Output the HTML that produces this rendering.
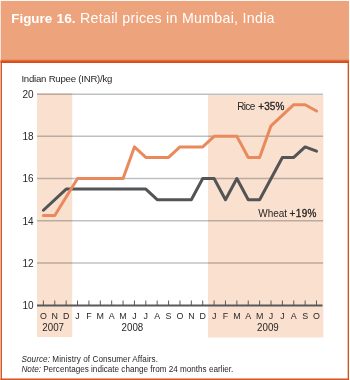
<!DOCTYPE html>
<html><head><meta charset="utf-8"><style>
html,body{margin:0;padding:0;background:#fff;width:350px;height:380px;overflow:hidden}
svg{display:block;will-change:transform}
text{font-family:"Liberation Sans",sans-serif}
</style></head><body>
<svg width="350" height="380" viewBox="0 0 350 380">
<rect x="0.7" y="0.9" width="348.3" height="61" fill="#EDA37C"/>
<rect x="37" y="93" width="35.2" height="244.1" fill="#FAE0CE"/>
<rect x="208" y="95" width="115.4" height="242.5" fill="#FAE0CE"/>
<line x1="37" x2="323" y1="94.15" y2="94.15" stroke="rgba(15,25,35,0.27)" stroke-width="1.5"/>
<line x1="37" x2="323" y1="136.36" y2="136.36" stroke="rgba(15,25,35,0.27)" stroke-width="1.5"/>
<line x1="37" x2="323" y1="178.57" y2="178.57" stroke="rgba(15,25,35,0.27)" stroke-width="1.5"/>
<line x1="37" x2="323" y1="220.78" y2="220.78" stroke="rgba(15,25,35,0.27)" stroke-width="1.5"/>
<line x1="37" x2="323" y1="262.99" y2="262.99" stroke="rgba(15,25,35,0.27)" stroke-width="1.5"/>
<line x1="37" x2="322.5" y1="305.50" y2="305.50" stroke="#58595B" stroke-width="2"/>
<line x1="43.40" x2="43.40" y1="300.50" y2="305.50" stroke="#58595B" stroke-width="1"/>
<line x1="54.78" x2="54.78" y1="300.50" y2="305.50" stroke="#58595B" stroke-width="1"/>
<line x1="66.16" x2="66.16" y1="300.50" y2="305.50" stroke="#58595B" stroke-width="1"/>
<line x1="77.54" x2="77.54" y1="300.50" y2="305.50" stroke="#58595B" stroke-width="1"/>
<line x1="88.92" x2="88.92" y1="300.50" y2="305.50" stroke="#58595B" stroke-width="1"/>
<line x1="100.30" x2="100.30" y1="300.50" y2="305.50" stroke="#58595B" stroke-width="1"/>
<line x1="111.68" x2="111.68" y1="300.50" y2="305.50" stroke="#58595B" stroke-width="1"/>
<line x1="123.06" x2="123.06" y1="300.50" y2="305.50" stroke="#58595B" stroke-width="1"/>
<line x1="134.44" x2="134.44" y1="300.50" y2="305.50" stroke="#58595B" stroke-width="1"/>
<line x1="145.82" x2="145.82" y1="300.50" y2="305.50" stroke="#58595B" stroke-width="1"/>
<line x1="157.20" x2="157.20" y1="300.50" y2="305.50" stroke="#58595B" stroke-width="1"/>
<line x1="168.58" x2="168.58" y1="300.50" y2="305.50" stroke="#58595B" stroke-width="1"/>
<line x1="179.96" x2="179.96" y1="300.50" y2="305.50" stroke="#58595B" stroke-width="1"/>
<line x1="191.34" x2="191.34" y1="300.50" y2="305.50" stroke="#58595B" stroke-width="1"/>
<line x1="202.72" x2="202.72" y1="300.50" y2="305.50" stroke="#58595B" stroke-width="1"/>
<line x1="214.10" x2="214.10" y1="300.50" y2="305.50" stroke="#58595B" stroke-width="1"/>
<line x1="225.48" x2="225.48" y1="300.50" y2="305.50" stroke="#58595B" stroke-width="1"/>
<line x1="236.86" x2="236.86" y1="300.50" y2="305.50" stroke="#58595B" stroke-width="1"/>
<line x1="248.24" x2="248.24" y1="300.50" y2="305.50" stroke="#58595B" stroke-width="1"/>
<line x1="259.62" x2="259.62" y1="300.50" y2="305.50" stroke="#58595B" stroke-width="1"/>
<line x1="271.00" x2="271.00" y1="300.50" y2="305.50" stroke="#58595B" stroke-width="1"/>
<line x1="282.38" x2="282.38" y1="300.50" y2="305.50" stroke="#58595B" stroke-width="1"/>
<line x1="293.76" x2="293.76" y1="300.50" y2="305.50" stroke="#58595B" stroke-width="1"/>
<line x1="305.14" x2="305.14" y1="300.50" y2="305.50" stroke="#58595B" stroke-width="1"/>
<line x1="316.52" x2="316.52" y1="300.50" y2="305.50" stroke="#58595B" stroke-width="1"/>
<polyline points="43.40,210.23 66.16,189.12 145.82,189.12 157.20,199.68 191.34,199.68 202.72,178.57 214.10,178.57 225.48,199.68 236.86,178.57 248.24,199.68 259.62,199.68 282.38,157.47 293.76,157.47 305.14,146.91 316.52,151.13" fill="none" stroke="#535456" stroke-width="3" stroke-linejoin="round" stroke-linecap="round"/>
<polyline points="43.40,215.50 54.78,215.50 77.54,178.57 123.06,178.57 134.44,146.91 145.82,157.47 168.58,157.47 179.96,146.91 202.72,146.91 214.10,136.36 236.86,136.36 248.24,157.47 259.62,157.47 271.00,125.81 293.76,104.70 305.14,104.70 316.52,111.03" fill="none" stroke="#EA8A5C" stroke-width="3" stroke-linejoin="round" stroke-linecap="round"/>
<rect x="0.6" y="59.8" width="348.4" height="1.3" fill="#E26B3C"/>
<rect x="0.6" y="61.1" width="348.4" height="1.9" fill="#D84C16"/>
<rect x="0.55" y="61" width="1.45" height="319" fill="#D9531E"/>
<rect x="347.65" y="61" width="1.35" height="319" fill="#D9531E"/>
<rect x="0.55" y="378.5" width="348.45" height="1.5" fill="#D9531E"/>
<text x="11.30" y="23.20" font-size="13.35" font-weight="bold" font-style="normal" fill="#fff" text-anchor="start" letter-spacing="0">Figure</text>
<text x="56.60" y="23.20" font-size="13.7" font-weight="bold" font-style="normal" fill="#fff" text-anchor="start" letter-spacing="0">16.</text>
<text x="80.00" y="23.00" font-size="14.2" font-weight="normal" font-style="normal" fill="#fff" text-anchor="start" letter-spacing="0.29">Retail prices in Mumbai, India</text>
<text x="21.40" y="82.40" font-size="9.6" font-weight="normal" font-style="normal" fill="#2a2627" text-anchor="start" letter-spacing="-0.22">Indian Rupee (INR)/kg</text>
<text x="33.60" y="97.95" font-size="10" font-weight="normal" font-style="normal" fill="#2a2627" text-anchor="end" letter-spacing="0">20</text>
<text x="33.60" y="140.16" font-size="10" font-weight="normal" font-style="normal" fill="#2a2627" text-anchor="end" letter-spacing="0">18</text>
<text x="33.60" y="182.37" font-size="10" font-weight="normal" font-style="normal" fill="#2a2627" text-anchor="end" letter-spacing="0">16</text>
<text x="33.60" y="224.58" font-size="10" font-weight="normal" font-style="normal" fill="#2a2627" text-anchor="end" letter-spacing="0">14</text>
<text x="33.60" y="266.79" font-size="10" font-weight="normal" font-style="normal" fill="#2a2627" text-anchor="end" letter-spacing="0">12</text>
<text x="33.60" y="309.00" font-size="10" font-weight="normal" font-style="normal" fill="#2a2627" text-anchor="end" letter-spacing="0">10</text>
<text transform="translate(43.40,318.70) scale(1,1.12)" font-size="8.9" font-weight="normal" font-style="normal" fill="#2a2627" text-anchor="middle" letter-spacing="0">O</text>
<text transform="translate(54.78,318.70) scale(1,1.12)" font-size="8.9" font-weight="normal" font-style="normal" fill="#2a2627" text-anchor="middle" letter-spacing="0">N</text>
<text transform="translate(66.16,318.70) scale(1,1.12)" font-size="8.9" font-weight="normal" font-style="normal" fill="#2a2627" text-anchor="middle" letter-spacing="0">D</text>
<text transform="translate(77.54,318.70) scale(1,1.12)" font-size="8.9" font-weight="normal" font-style="normal" fill="#2a2627" text-anchor="middle" letter-spacing="0">J</text>
<text transform="translate(88.92,318.70) scale(1,1.12)" font-size="8.9" font-weight="normal" font-style="normal" fill="#2a2627" text-anchor="middle" letter-spacing="0">F</text>
<text transform="translate(100.30,318.70) scale(1,1.12)" font-size="8.9" font-weight="normal" font-style="normal" fill="#2a2627" text-anchor="middle" letter-spacing="0">M</text>
<text transform="translate(111.68,318.70) scale(1,1.12)" font-size="8.9" font-weight="normal" font-style="normal" fill="#2a2627" text-anchor="middle" letter-spacing="0">A</text>
<text transform="translate(123.06,318.70) scale(1,1.12)" font-size="8.9" font-weight="normal" font-style="normal" fill="#2a2627" text-anchor="middle" letter-spacing="0">M</text>
<text transform="translate(134.44,318.70) scale(1,1.12)" font-size="8.9" font-weight="normal" font-style="normal" fill="#2a2627" text-anchor="middle" letter-spacing="0">J</text>
<text transform="translate(145.82,318.70) scale(1,1.12)" font-size="8.9" font-weight="normal" font-style="normal" fill="#2a2627" text-anchor="middle" letter-spacing="0">J</text>
<text transform="translate(157.20,318.70) scale(1,1.12)" font-size="8.9" font-weight="normal" font-style="normal" fill="#2a2627" text-anchor="middle" letter-spacing="0">A</text>
<text transform="translate(168.58,318.70) scale(1,1.12)" font-size="8.9" font-weight="normal" font-style="normal" fill="#2a2627" text-anchor="middle" letter-spacing="0">S</text>
<text transform="translate(179.96,318.70) scale(1,1.12)" font-size="8.9" font-weight="normal" font-style="normal" fill="#2a2627" text-anchor="middle" letter-spacing="0">O</text>
<text transform="translate(191.34,318.70) scale(1,1.12)" font-size="8.9" font-weight="normal" font-style="normal" fill="#2a2627" text-anchor="middle" letter-spacing="0">N</text>
<text transform="translate(202.72,318.70) scale(1,1.12)" font-size="8.9" font-weight="normal" font-style="normal" fill="#2a2627" text-anchor="middle" letter-spacing="0">D</text>
<text transform="translate(214.10,318.70) scale(1,1.12)" font-size="8.9" font-weight="normal" font-style="normal" fill="#2a2627" text-anchor="middle" letter-spacing="0">J</text>
<text transform="translate(225.48,318.70) scale(1,1.12)" font-size="8.9" font-weight="normal" font-style="normal" fill="#2a2627" text-anchor="middle" letter-spacing="0">F</text>
<text transform="translate(236.86,318.70) scale(1,1.12)" font-size="8.9" font-weight="normal" font-style="normal" fill="#2a2627" text-anchor="middle" letter-spacing="0">M</text>
<text transform="translate(248.24,318.70) scale(1,1.12)" font-size="8.9" font-weight="normal" font-style="normal" fill="#2a2627" text-anchor="middle" letter-spacing="0">A</text>
<text transform="translate(259.62,318.70) scale(1,1.12)" font-size="8.9" font-weight="normal" font-style="normal" fill="#2a2627" text-anchor="middle" letter-spacing="0">M</text>
<text transform="translate(271.00,318.70) scale(1,1.12)" font-size="8.9" font-weight="normal" font-style="normal" fill="#2a2627" text-anchor="middle" letter-spacing="0">J</text>
<text transform="translate(282.38,318.70) scale(1,1.12)" font-size="8.9" font-weight="normal" font-style="normal" fill="#2a2627" text-anchor="middle" letter-spacing="0">J</text>
<text transform="translate(293.76,318.70) scale(1,1.12)" font-size="8.9" font-weight="normal" font-style="normal" fill="#2a2627" text-anchor="middle" letter-spacing="0">A</text>
<text transform="translate(305.14,318.70) scale(1,1.12)" font-size="8.9" font-weight="normal" font-style="normal" fill="#2a2627" text-anchor="middle" letter-spacing="0">S</text>
<text transform="translate(316.52,318.70) scale(1,1.12)" font-size="8.9" font-weight="normal" font-style="normal" fill="#2a2627" text-anchor="middle" letter-spacing="0">O</text>
<text transform="translate(53.15,330.50) scale(1.06,1.2)" font-size="9.2" font-weight="normal" font-style="normal" fill="#2a2627" text-anchor="middle" letter-spacing="0">2007</text>
<text transform="translate(132.40,330.50) scale(1.06,1.2)" font-size="9.2" font-weight="normal" font-style="normal" fill="#2a2627" text-anchor="middle" letter-spacing="0">2008</text>
<text transform="translate(267.90,330.50) scale(1.06,1.2)" font-size="9.2" font-weight="normal" font-style="normal" fill="#2a2627" text-anchor="middle" letter-spacing="0">2009</text>
<text x="237.30" y="109.90" font-size="10" font-weight="normal" font-style="normal" fill="#2a2627" text-anchor="start" letter-spacing="-0.7">Rice</text>
<text x="258.20" y="109.90" font-size="10" font-weight="normal" font-style="normal" fill="#2a2627" text-anchor="start" letter-spacing="0.1" stroke="#2a2627" stroke-width="0.3">+35%</text>
<text x="258.20" y="216.70" font-size="10" font-weight="normal" font-style="normal" fill="#2a2627" text-anchor="start" letter-spacing="0">Wheat</text>
<text x="289.60" y="216.70" font-size="10" font-weight="normal" font-style="normal" fill="#2a2627" text-anchor="start" letter-spacing="0.35" stroke="#2a2627" stroke-width="0.3">+19%</text>
<text x="21.5" y="361.7" font-size="8.15" letter-spacing="0.07" fill="#2a2627"><tspan font-style="italic">Source:</tspan> Ministry of Consumer Affairs.</text>
<text x="21.5" y="371.7" font-size="8.15" fill="#2a2627"><tspan font-style="italic">Note:</tspan> Percentages indicate change from 24 months earlier.</text>
</svg>
</body></html>
